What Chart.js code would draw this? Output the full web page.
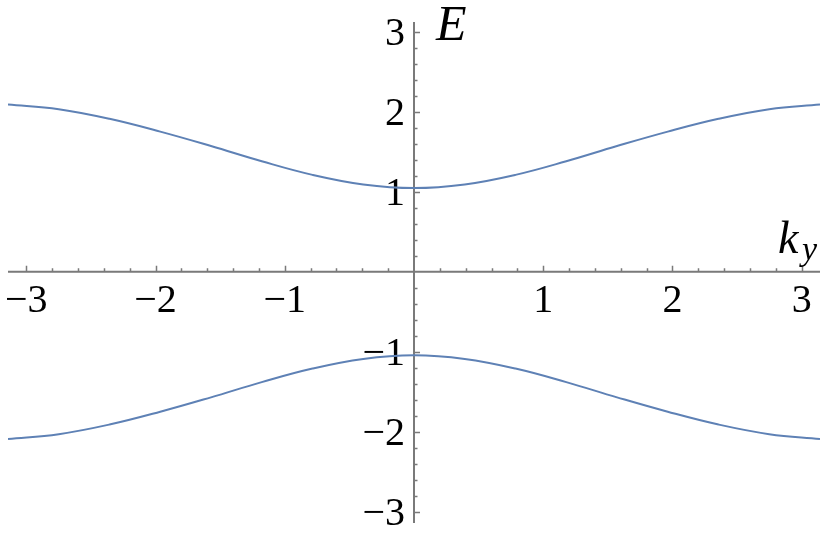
<!DOCTYPE html>
<html>
<head>
<meta charset="utf-8">
<script src="https://cdn.jsdelivr.net/npm/chart.js@4.4.0/dist/chart.umd.min.js"></script>
<style>
  html, body { margin: 0; padding: 0; background: #fff; }
  canvas { display: block; }
</style>
</head>
<body>
<canvas id="bandChart" width="831" height="541"></canvas>
<script>
// k_y sample points (steps of pi/8) and the two bands
const kValues = [-3.1416, -2.7489, -2.3562, -1.9635, -1.5708, -1.1781, -0.7854, -0.3927, 0,
                 0.3927, 0.7854, 1.1781, 1.5708, 1.9635, 2.3562, 2.7489, 3.1416];
const upperBand = [2.09, 2.03, 1.91, 1.75, 1.57, 1.38, 1.21, 1.09, 1.045,
                   1.09, 1.21, 1.38, 1.57, 1.75, 1.91, 2.03, 2.09];
const lowerBand = [-2.09, -2.03, -1.91, -1.75, -1.57, -1.38, -1.21, -1.09, -1.045,
                   -1.09, -1.21, -1.38, -1.57, -1.75, -1.91, -2.03, -2.09];
const xTickLabels = [-3, -2, -1, 1, 2, 3];
const yTickLabels = [-3, -2, -1, 1, 2, 3];

const lineColor = "#5e81b5";
const axisColor = "#7a7a7a";
const serif = "'Liberation Serif', 'Times New Roman', serif";

function toPoints(xs, ys) {
  return xs.map((x, i) => ({ x: x, y: ys[i] }));
}

function fmt(v) {
  return v < 0 ? "\u2212" + Math.abs(v) : String(v);
}

// Mathematica-style axes crossing at the origin
const originAxes = {
  id: "originAxes",
  beforeDatasetsDraw(chart) {
    const ctx = chart.ctx;
    const xs = chart.scales.x;
    const ys = chart.scales.y;
    const x0 = xs.getPixelForValue(0);
    const y0 = ys.getPixelForValue(0);

    ctx.save();
    ctx.strokeStyle = axisColor;
    ctx.lineWidth = 2;
    ctx.beginPath();
    ctx.moveTo(xs.left, y0);
    ctx.lineTo(xs.right, y0);
    ctx.moveTo(x0, ys.top);
    ctx.lineTo(x0, ys.bottom);
    ctx.stroke();

    // ticks every 0.2, majors on integers
    ctx.lineWidth = 1.5;
    ctx.beginPath();
    for (let i = -20; i <= 20; i++) {
      if (i === 0) continue;
      const v = i / 5;
      const len = i % 5 === 0 ? 6 : 3.5;
      if (v >= xs.min && v <= xs.max) {
        const px = Math.round(xs.getPixelForValue(v)) + 0.5;
        ctx.moveTo(px, y0);
        ctx.lineTo(px, y0 - len);
      }
      if (v >= ys.min && v <= ys.max) {
        const py = Math.round(ys.getPixelForValue(v)) + 0.5;
        ctx.moveTo(x0, py);
        ctx.lineTo(x0 + len, py);
      }
    }
    ctx.stroke();

    ctx.fillStyle = "#000";
    ctx.font = "40px " + serif;
    ctx.textAlign = "center";
    ctx.textBaseline = "alphabetic";
    xTickLabels.forEach(v => {
      ctx.fillText(fmt(v), xs.getPixelForValue(v), y0 + 40);
    });
    ctx.textAlign = "right";
    yTickLabels.forEach(v => {
      ctx.fillText(fmt(v), x0 - 9, ys.getPixelForValue(v) + 13);
    });

    // axis titles
    ctx.textAlign = "left";
    ctx.font = "italic 50px " + serif;
    ctx.fillText("E", x0 + 22, 40);
    ctx.font = "italic 46px " + serif;
    ctx.fillText("k", xs.right - 42, y0 - 19);
    ctx.font = "italic 34px " + serif;
    ctx.fillText("y", xs.right - 18, y0 - 12);
    ctx.restore();
  }
};

new Chart(document.getElementById("bandChart"), {
  type: "line",
  data: {
    datasets: [
      {
        label: "upper",
        data: toPoints(kValues, upperBand),
        borderColor: lineColor,
        borderWidth: 2,
        pointRadius: 0,
        tension: 0.4,
        fill: false
      },
      {
        label: "lower",
        data: toPoints(kValues, lowerBand),
        borderColor: lineColor,
        borderWidth: 2,
        pointRadius: 0,
        tension: 0.4,
        fill: false
      }
    ]
  },
  options: {
    responsive: false,
    animation: false,
    devicePixelRatio: 1,
    layout: { padding: { left: 8, right: 11, top: 22, bottom: 18 } },
    plugins: {
      legend: { display: false },
      tooltip: { enabled: false }
    },
    scales: {
      x: { type: "linear", min: -Math.PI, max: Math.PI, display: false },
      y: { type: "linear", min: -3.14, max: 3.12, display: false }
    }
  },
  plugins: [originAxes]
});
</script>
</body>
</html>
